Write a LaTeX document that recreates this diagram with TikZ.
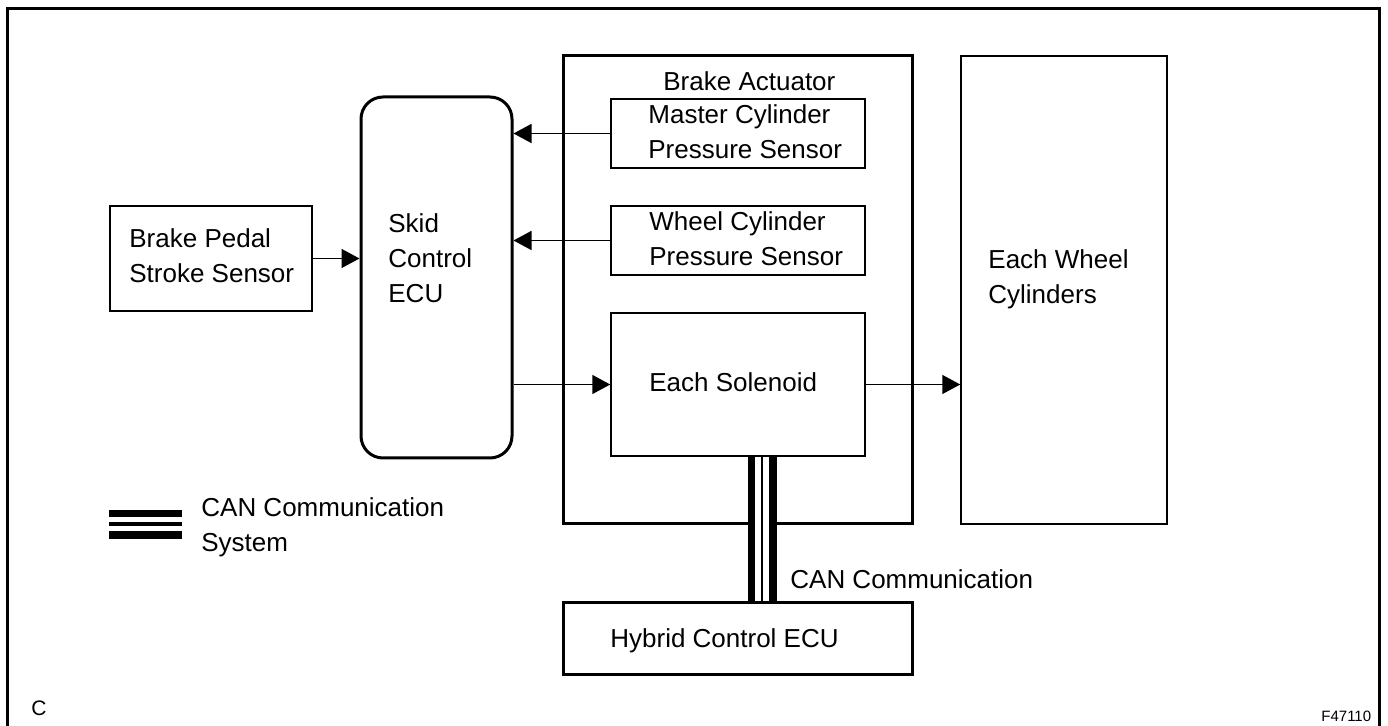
\documentclass[tikz,border=0pt]{standalone}
\usepackage{fontspec}
\setmainfont{Liberation Sans}
\usetikzlibrary{arrows.meta}

\tikzset{
  thinbox/.style={draw, line width=0.75pt, inner sep=0pt},
  thickbox/.style={draw, line width=1.5pt, inner sep=0pt},
  txt/.style={anchor=north west, inner sep=0pt, align=left},
  flow/.style={line width=0.75pt, -{Triangle[length=9pt,width=9.5pt]}}
}

\begin{document}
\begin{tikzpicture}[x=0.5pt, y=-0.5pt, font=\fontsize{13}{17.5}\selectfont]
	\useasboundingbox (0,0) rectangle (1388,726);
	\draw[line width=1.5pt] (7,726) -- (7,9) -- (1379,9) -- (1379,726);
	% boxes
	\node[thinbox, minimum width=101pt, minimum height=52.5pt] (pedal) at (211,258.5) {};
	\node[thickbox, rounded corners=11pt, minimum width=75.5pt, minimum height=180.5pt] (skid) at (436.5,277.5) {};
	\node[thickbox, minimum width=174.5pt, minimum height=234pt] (actuator) at (737.5,290) {};
	\node[thinbox, minimum width=127pt, minimum height=34.5pt] (master) at (738,133.5) {};
	\node[thinbox, minimum width=127pt, minimum height=34.5pt] (wheelsens) at (738,240.5) {};
	\node[thinbox, minimum width=127pt, minimum height=71.5pt] (solenoid) at (738,384.5) {};
	\node[thinbox, minimum width=103pt, minimum height=234pt] (wheelcyl) at (1064,290) {};
	\node[thickbox, minimum width=174.5pt, minimum height=36pt] (hybrid) at (737.5,639) {};
	% texts
	\node[txt] (pedaltext) at (129,228.5) {Brake Pedal\\Stroke Sensor};
	\node[txt] (skidtext) at (388,213.5) {Skid\\Control\\ECU};
	\node[txt] (actuatortext) at (663,71.5) {Brake Actuator};
	\node[txt] (mastertext) at (648,104.5) {Master Cylinder\\Pressure Sensor};
	\node[txt] (wheelsenstext) at (649,211.5) {Wheel Cylinder\\Pressure Sensor};
	\node[txt] (solenoidtext) at (649,372.5) {Each Solenoid};
	\node[txt] (wheelcyltext) at (988,249.5) {Each Wheel\\Cylinders};
	\node[txt] (hybridtext) at (610,628.5) {Hybrid Control ECU};
	\node[txt] (cantext) at (790,569.5) {CAN Communication};
	\node[txt] (legendtext) at (201,497.5) {CAN Communication\\System};
	\node[txt, font=\fontsize{10.5}{12}\selectfont] (corner) at (31,700) {C};
	\node[txt, font=\fontsize{7.5}{9}\selectfont] (figno) at (1321,710.5) {F47110};
	% arrows
	\draw[flow] (pedal.east) -- (pedal.east -| skid.west);
	\draw[flow] (master.west) -- (master.west -| skid.east);
	\draw[flow] (wheelsens.west) -- (wheelsens.west -| skid.east);
	\draw[flow] (skid.east |- solenoid.west) -- (solenoid.west);
	\draw[flow] (solenoid.east) -- (solenoid.east -| wheelcyl.west);
	% CAN bus
	\fill[white] ([xshift=5pt]solenoid.south) rectangle ([xshift=19.5pt]solenoid.south |- hybrid.north);
	\foreach \dx/\w in {6.75/3.5, 12/1, 17.5/3.75}
	  \draw[line width=\w pt] ([xshift=\dx pt]solenoid.south) -- ([xshift=\dx pt]solenoid.south |- hybrid.north);
	% legend
	\foreach \y/\w in {513.5/3.5, 524/1.75, 535/4}
	  \draw[line width=\w pt] (109,\y) -- (182,\y);
\end{tikzpicture}
\end{document}
